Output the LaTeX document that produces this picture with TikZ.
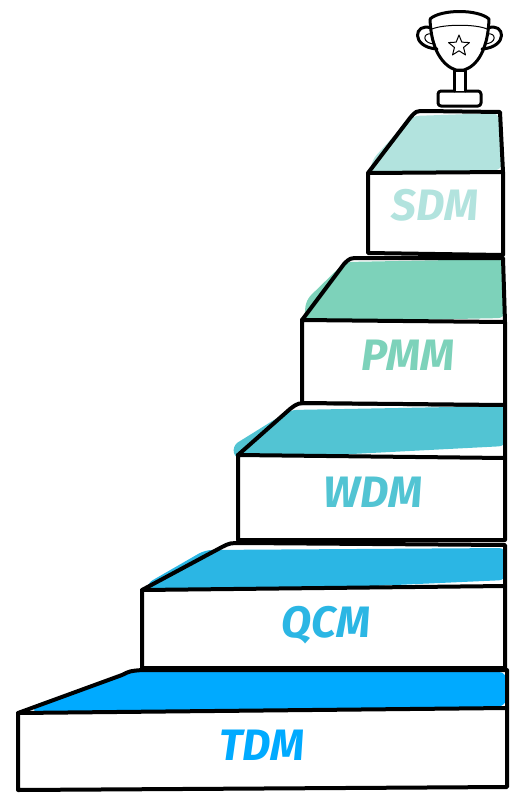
\documentclass[tikz,border=0pt]{standalone}
\usepackage{fontspec}
\setsansfont{Fira Sans}
\usepackage{tikz}
\usetikzlibrary{shapes.geometric}

\definecolor{tdm}{HTML}{00AAFF}
\definecolor{qcm}{HTML}{2BB6E4}
\definecolor{wdm}{HTML}{52C4D3}
\definecolor{pmm}{HTML}{7DD2BA}
\definecolor{sdm}{HTML}{B2E3DE}

\tikzset{
  edge/.style={line width=4pt, line join=round, line cap=round},
  cup edge/.style={line width=3pt, line join=round, line cap=round},
  thin edge/.style={line width=1pt, line join=round, line cap=round},
  blob/.style={rounded corners=7pt},
  steplabel/.style={font=\sffamily\bfseries\itshape\fontsize{44}{44}\selectfont}
}

\begin{document}
\begin{tikzpicture}[x=1pt,y=-1pt]
      \useasboundingbox (0,0) rectangle (510,793);

      % step 1
      \fill[tdm, blob] (32,706) -- (128,672) -- (506,672) -- (506,706) -- (38,720) -- cycle;
      \draw[edge] (18,713) -- (122,675) .. controls (130,671) .. (142,670) -- (507,670) -- (507,708);
      \draw[edge, fill=white] (18,713) -- (507,708) -- (507,787) -- (18,790) -- cycle;
      \node[steplabel, text=tdm] (TDM) at (262,745) {TDM};

      % step 2
      \fill[qcm, blob] (146,584) -- (205,550) -- (506,548) -- (506,580) -- (152,596) -- cycle;
      \draw[edge] (142,590) -- (222,547) .. controls (230,543) .. (242,543) -- (505,545) -- (505,586);
      \draw[edge, fill=white] (142,590) -- (505,586) -- (505,668) -- (142,668) -- cycle;
      \node[steplabel, text=qcm] (QCM) at (326,625) {QCM};

      % step 3
      \fill[wdm, blob] (232,446) -- (290,410) -- (506,406) -- (506,446) -- (236,460) -- cycle;
      \draw[edge] (238,455) -- (290,409) .. controls (298,403) .. (310,403) -- (505,405) -- (505,458);
      \draw[edge, fill=white] (238,455) -- (505,458) -- (505,540) -- (238,540) -- cycle;
      \node[steplabel, text=wdm] (WDM) at (373,492) {WDM};

      % step 4
      \fill[pmm, blob] (306,300) -- (345,262) -- (504,259) -- (505,318) -- (304,322) -- cycle;
      \draw[edge] (302,320) -- (344,264) .. controls (350,258) .. (360,258) -- (503,258) -- (505,322);
      \draw[edge, fill=white] (302,320) -- (505,322) -- (505,405) -- (302,403) -- cycle;
      \node[steplabel, text=pmm] (PMM) at (408,355) {PMM};

      % step 5
      \fill[sdm, blob] (372,160) -- (412,116) -- (499,113) -- (502,170) -- (370,173) -- cycle;
      \draw[edge] (368,173) -- (410,118) .. controls (416,111) .. (425,111) -- (500,112) -- (503,172);
      \draw[edge, fill=white] (368,173) -- (503,172) -- (503,255) -- (368,253) -- cycle;
      \node[steplabel, text=sdm] (SDM) at (435,205) {SDM};

      % trophy on top
      \draw[cup edge, fill=white, rounded corners=3pt] (438,91) rectangle (481,106);
      \draw[cup edge, fill=white] (454,91) -- (454,70) -- (465,70) -- (465,91);
      \draw[cup edge, fill=white] (430,19) .. controls (431,50) and (443,66) .. (456,70)
        -- (464,70) .. controls (477,66) and (488,50) .. (489,19)
        .. controls (478,9) and (441,9) .. (430,19);
      \draw[thin edge] (432,29) .. controls (444,24) and (476,24) .. (487,29);
      \draw[cup edge] (431,28) .. controls (414,22) and (410,47) .. (437,49);
      \draw[thin edge] (432,34) .. controls (422,32) and (422,44) .. (435,44);
      \draw[cup edge] (488,28) .. controls (505,22) and (509,47) .. (482,49);
      \draw[thin edge] (487,34) .. controls (497,32) and (497,44) .. (484,44);
      \node (star) at (459,46) [draw, thin edge, star, star points=5, star point ratio=2.3, minimum size=22pt, inner sep=0pt] {};

\end{tikzpicture}
\end{document}
